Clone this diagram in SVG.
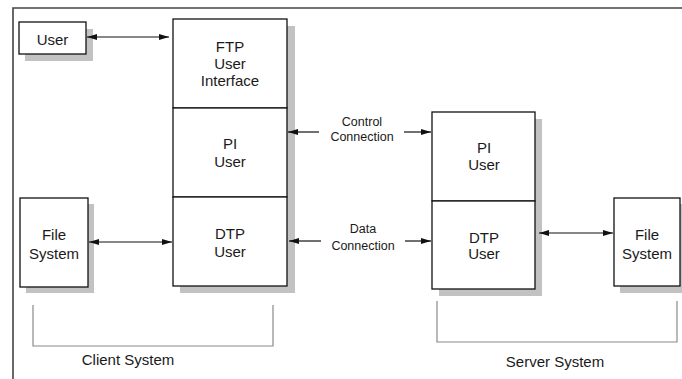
<svg xmlns="http://www.w3.org/2000/svg" width="682" height="379" viewBox="0 0 682 379">
<style>
.box{fill:#fff;stroke:#111;stroke-width:1.3}
.sh{fill:#c2c2c2}
.t{font-family:"Liberation Sans",Arial,sans-serif;font-size:15px;fill:#1a1a1a;text-anchor:middle}
.s{font-family:"Liberation Sans",Arial,sans-serif;font-size:12.5px;fill:#1a1a1a;text-anchor:middle}
.ln{stroke:#111;stroke-width:1.2;fill:none}
.br{stroke:#8a8a8a;stroke-width:1.2;fill:none}
</style>
<defs>
<marker id="ah" viewBox="0 0 10 6" refX="10" refY="3" markerWidth="10" markerHeight="6" markerUnits="userSpaceOnUse" orient="auto-start-reverse">
<path d="M0,0 L10,3 L0,6 Z" fill="#111"/>
</marker>
</defs>
<rect width="682" height="379" fill="#fff"/>
<path d="M13,379 V8 H682" fill="none" stroke="#444" stroke-width="1.6"/>

<g id="user">
<rect class="sh" x="25" y="29" width="68" height="32"/>
<rect class="box" x="19" y="22" width="67" height="32"/>
<text class="t" x="52.5" y="44.5">User</text>
</g>

<g id="client-stack">
<rect class="sh" x="180" y="26" width="115" height="267"/>
<rect class="box" x="173" y="19" width="114" height="89"/>
<text class="t" x="230" y="51.5">FTP</text>
<text class="t" x="230" y="68.5">User</text>
<text class="t" x="230" y="85.5">Interface</text>
<rect class="box" x="173" y="108" width="114" height="89"/>
<text class="t" x="230" y="148.5">PI</text>
<text class="t" x="230" y="166.5">User</text>
<rect class="box" x="173" y="197" width="114" height="89"/>
<text class="t" x="230" y="238.5">DTP</text>
<text class="t" x="230" y="256.5">User</text>
</g>

<g id="client-fs">
<rect class="sh" x="26" y="204" width="68" height="89"/>
<rect class="box" x="20" y="198" width="68" height="89"/>
<text class="t" x="54" y="239.5">File</text>
<text class="t" x="54" y="258.5">System</text>
</g>

<g id="server-stack">
<rect class="sh" x="439" y="119" width="103" height="177"/>
<rect class="box" x="432" y="112" width="103" height="89"/>
<text class="t" x="484" y="152.5">PI</text>
<text class="t" x="484" y="169.5">User</text>
<rect class="box" x="432" y="201" width="103" height="88"/>
<text class="t" x="484" y="242.5">DTP</text>
<text class="t" x="484" y="258.5">User</text>
</g>

<g id="server-fs">
<rect class="sh" x="620" y="204" width="68" height="89"/>
<rect class="box" x="614" y="198" width="66" height="88"/>
<text class="t" x="647" y="239.5">File</text>
<text class="t" x="647" y="258.5">System</text>
</g>

<g id="connectors">
<line class="ln" x1="87" y1="37" x2="169" y2="37" marker-start="url(#ah)" marker-end="url(#ah)"/>
<line class="ln" x1="89" y1="242" x2="172" y2="242" marker-start="url(#ah)" marker-end="url(#ah)"/>
<line class="ln" x1="539" y1="233" x2="613" y2="233" marker-start="url(#ah)" marker-end="url(#ah)"/>
<line class="ln" x1="319" y1="132" x2="288" y2="132" marker-end="url(#ah)"/>
<line class="ln" x1="404" y1="132" x2="431" y2="132" marker-end="url(#ah)"/>
<line class="ln" x1="321" y1="241" x2="289" y2="241" marker-end="url(#ah)"/>
<line class="ln" x1="405" y1="241" x2="431" y2="241" marker-end="url(#ah)"/>
</g>

<g id="labels">
<text class="s" x="362" y="125.5">Control</text>
<text class="s" x="362" y="140.5">Connection</text>
<text class="s" x="363" y="232.5">Data</text>
<text class="s" x="363" y="249.5">Connection</text>
</g>

<g id="client-system">
<path class="br" d="M33,305 V346 H273 V305"/>
<text class="t" x="128" y="365">Client System</text>
</g>

<g id="server-system">
<path class="br" d="M437,301 V342 H677 V301"/>
<text class="t" x="555" y="367">Server System</text>
</g>
</svg>
